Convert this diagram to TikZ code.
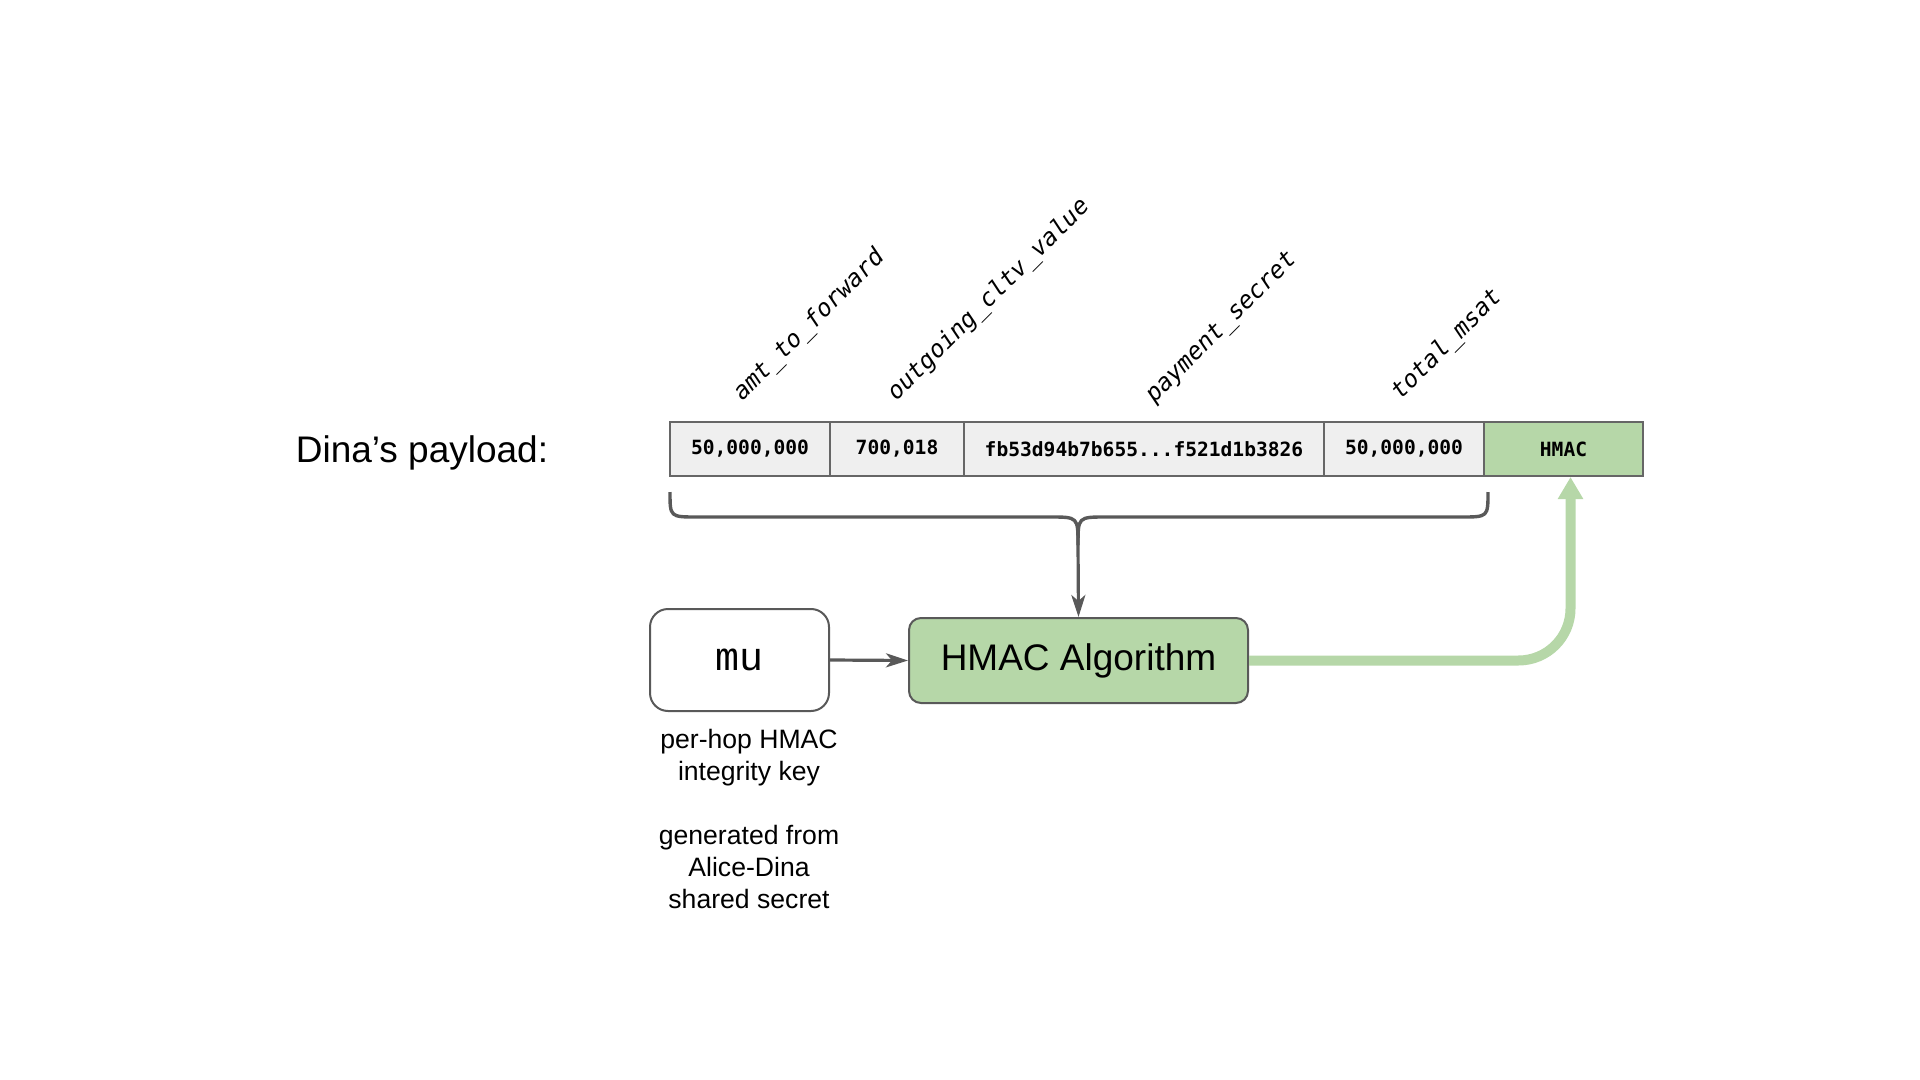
\documentclass[tikz,border=0pt]{standalone}
\usepackage{fontspec}
\setmainfont{Liberation Sans}
\newfontfamily\cellmono{DejaVu Sans Mono}
\newfontfamily\keymono{Liberation Mono}
\usetikzlibrary{arrows.meta}
\definecolor{cellgray}{HTML}{EFEFEF}
\definecolor{edgegray}{HTML}{666666}
\definecolor{darkline}{HTML}{595959}
\definecolor{lgreen}{HTML}{B6D7A8}
\tikzset{
  cell/.style={draw=edgegray, line width=1pt, fill=cellgray, minimum height=27pt, inner sep=0pt,
    font=\cellmono\bfseries\fontsize{9.8}{11}\selectfont},
  hcell/.style={cell, fill=lgreen},
  lab/.style={rotate=45, anchor=base west, inner sep=0pt, font=\cellmono\itshape\fontsize{12}{14}\selectfont},
  darr/.style={draw=darkline, line width=1.6pt, -{Stealth[length=11pt,width=7pt,inset=3pt]}},
  bracestyle/.style={draw=darkline, line width=1.7pt},
  garr/.style={draw=lgreen, line width=5pt, rounded corners=26pt, -{Triangle[length=11pt,width=12pt]}},
}
\begin{document}
\begin{tikzpicture}[x=0.5pt,y=-0.5pt]
\useasboundingbox (0,0) rectangle (1920,1080);
% title
\node[anchor=base, inner sep=0pt, font=\fontsize{18.5}{22}\selectfont] (title) at (422,462) {Dina’s payload:};
% payload cells
\node[cell, minimum width=80pt] (c1) at (750,449) {50,000,000};
\node[cell, minimum width=67pt] (c2) at (897,449) {700,018};
\node[cell, minimum width=180pt] (c3) at (1144,449) {fb53d94b7b655...f521d1b3826};
\node[cell, minimum width=80pt] (c4) at (1404,449) {50,000,000};
\node[hcell, minimum width=79.5pt] (c5) at (1563.5,449) {HMAC};
% field labels
\node[lab] (l1) at (742,402) {amt\_to\_forward};
\node[lab] (l2) at (896,402) {outgoing\_cltv\_value};
\node[lab] (l3) at (1154,404) {payment\_secret};
\node[lab] (l4) at (1400,401) {total\_msat};
% key and algorithm
\node[draw=darkline, line width=1pt, rounded corners=9pt, minimum width=89.5pt, minimum height=51pt,
  font=\keymono\fontsize{20}{24}\selectfont] (mu) at (739.5,660) {\raisebox{-3pt}{mu}};
\node[draw=darkline, line width=1pt, fill=lgreen, rounded corners=6pt, minimum width=169.5pt, minimum height=42.5pt,
  font=\fontsize{18.5}{22}\selectfont] (algo) at (1078.5,660.5) {HMAC Algorithm};
\node[anchor=north, inner sep=0pt, align=center, font=\fontsize{13.3}{16}\selectfont] (cap) at (749,729)
  {per-hop HMAC\\integrity key\\[16pt]generated from\\Alice-Dina\\shared secret};
% brace
\coordinate (bl) at (670,492);
\coordinate (br) at (1488,492);
\coordinate (cusp) at (1078,545);
\draw[bracestyle] (bl) .. controls (670,517) .. (697,517) -- (1050,517) .. controls (1078,517) .. (cusp);
\draw[bracestyle] (br) .. controls (1488,517) .. (1461,517) -- (1106,517) .. controls (1078,517) .. (cusp);
\draw[darr] (cusp) -- (algo.north);
\draw[darr] (mu.east) -- (algo.west);
% output arrow
\draw[garr] (algo.east) -| ([xshift=3.5pt]c5.south);
\end{tikzpicture}
\end{document}
